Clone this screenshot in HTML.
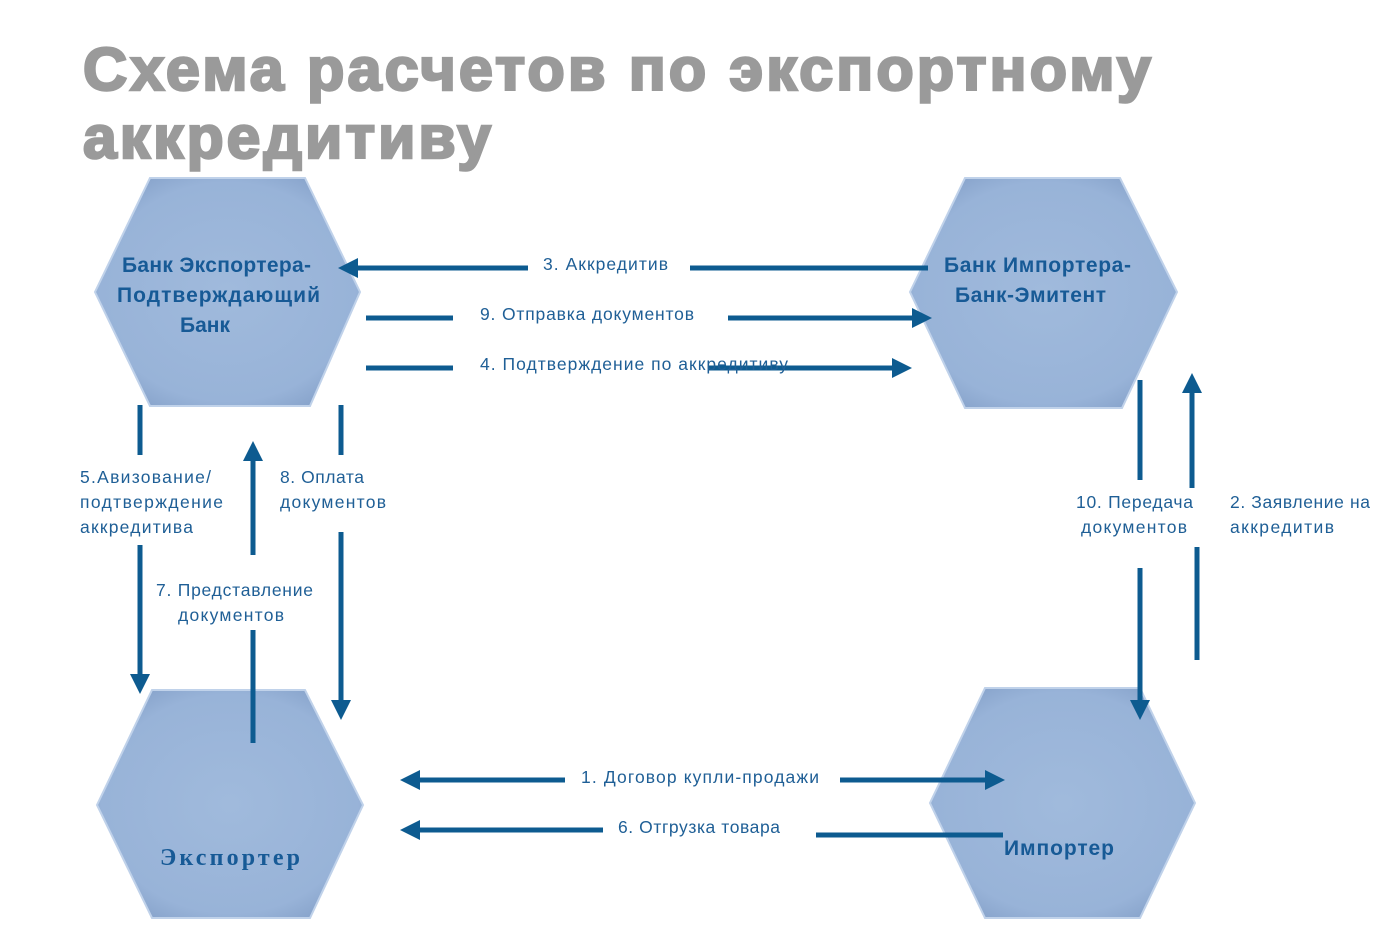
<!DOCTYPE html>
<html><head><meta charset="utf-8"><style>
body{margin:0;background:#fff;width:1381px;height:931px;overflow:hidden}
</style></head><body>
<svg width="1381" height="931" viewBox="0 0 1381 931" xmlns="http://www.w3.org/2000/svg" font-family="Liberation Sans, DejaVu Sans, sans-serif">
<defs>
<radialGradient id="g" cx="50%" cy="50%" r="60%">
<stop offset="0" stop-color="#a0badc"/><stop offset="0.8" stop-color="#98b3d8"/><stop offset="1" stop-color="#86a2ca"/>
</radialGradient>
<marker id="a" markerWidth="4" markerHeight="4" refX="2" refY="2" orient="auto" markerUnits="strokeWidth">
<path d="M0,0 L4,2 L0,4 z" fill="#0d5b90"/></marker>
</defs>
<g font-weight="bold" fill="#9a9a9a" stroke="#9a9a9a" stroke-width="2.5" font-size="60" letter-spacing="3">
<text x="83" y="90" textLength="1071" lengthAdjust="spacingAndGlyphs">Схема расчетов по экспортному</text>
<text x="83" y="158" textLength="411" lengthAdjust="spacingAndGlyphs">аккредитиву</text>
</g>
<g fill="url(#g)" stroke="#c0d2ea" stroke-width="2">
<polygon points="150,178 305,178 360,292 310,406 150,406 95,292"/>
<polygon points="965,178 1120,178 1177,292 1122,408 965,408 910,292"/>
<polygon points="152,690 305,690 363,805 310,918 152,918 97,805"/>
<polygon points="985,688 1140,688 1195,803 1140,918 985,918 930,803"/>
</g>
<g font-weight="bold" fill="#175a96" font-size="21">
<text x="122" y="272" textLength="189">Банк Экспортера-</text>
<text x="117" y="302" textLength="203">Подтверждающий</text>
<text x="180" y="332">Банк</text>
<text x="944" y="272" textLength="187">Банк Импортера-</text>
<text x="955" y="302" textLength="151">Банк-Эмитент</text>
<text x="1004" y="855" textLength="110">Импортер</text>
<text x="160" y="865" style="font-family:'Liberation Serif',serif" font-size="24" textLength="140">Экспортер</text>
</g>
<g stroke="#0d5b90" stroke-width="5" fill="none">
<line x1="928" y1="268" x2="690" y2="268"/><line x1="528" y1="268" x2="348" y2="268" marker-end="url(#a)"/>
<line x1="366" y1="318" x2="453" y2="318"/><line x1="728" y1="318" x2="922" y2="318" marker-end="url(#a)"/>
<line x1="366" y1="368" x2="453" y2="368"/><line x1="708" y1="368" x2="902" y2="368" marker-end="url(#a)"/>
<line x1="140" y1="405" x2="140" y2="455"/><line x1="140" y1="545" x2="140" y2="684" marker-end="url(#a)"/>
<line x1="253" y1="555" x2="253" y2="451" marker-end="url(#a)"/><line x1="253" y1="630" x2="253" y2="743"/>
<line x1="341" y1="405" x2="341" y2="455"/><line x1="341" y1="532" x2="341" y2="710" marker-end="url(#a)"/>
<line x1="1140" y1="380" x2="1140" y2="480"/><line x1="1140" y1="568" x2="1140" y2="710" marker-end="url(#a)"/>
<line x1="1192" y1="488" x2="1192" y2="383" marker-end="url(#a)"/><line x1="1197" y1="547" x2="1197" y2="660"/>
<line x1="565" y1="780" x2="410" y2="780" marker-end="url(#a)"/><line x1="840" y1="780" x2="995" y2="780" marker-end="url(#a)"/>
<line x1="603" y1="830" x2="410" y2="830" marker-end="url(#a)"/><line x1="816" y1="835" x2="1003" y2="835"/>
</g>
<g fill="#1f5f96" font-size="17.5">
<text x="543" y="270" textLength="125">3. Аккредитив</text>
<text x="480" y="320" textLength="214">9. Отправка документов</text>
<text x="480" y="370" textLength="308">4. Подтверждение по аккредитиву</text>
<text x="80" y="483" textLength="131">5.Авизование/</text>
<text x="80" y="508" textLength="143">подтверждение</text>
<text x="80" y="533" textLength="113">аккредитива</text>
<text x="280" y="483" textLength="84">8. Оплата</text>
<text x="280" y="508" textLength="106">документов</text>
<text x="156" y="596" textLength="157">7. Представление</text>
<text x="178" y="621" textLength="106">документов</text>
<text x="1076" y="508" textLength="117">10. Передача</text>
<text x="1081" y="533" textLength="106">документов</text>
<text x="1230" y="508" textLength="140">2. Заявление на</text>
<text x="1230" y="533" textLength="104">аккредитив</text>
<text x="581" y="783" textLength="238">1. Договор купли-продажи</text>
<text x="618" y="833" textLength="162">6. Отгрузка товара</text>
</g>
</svg>
</body></html>
